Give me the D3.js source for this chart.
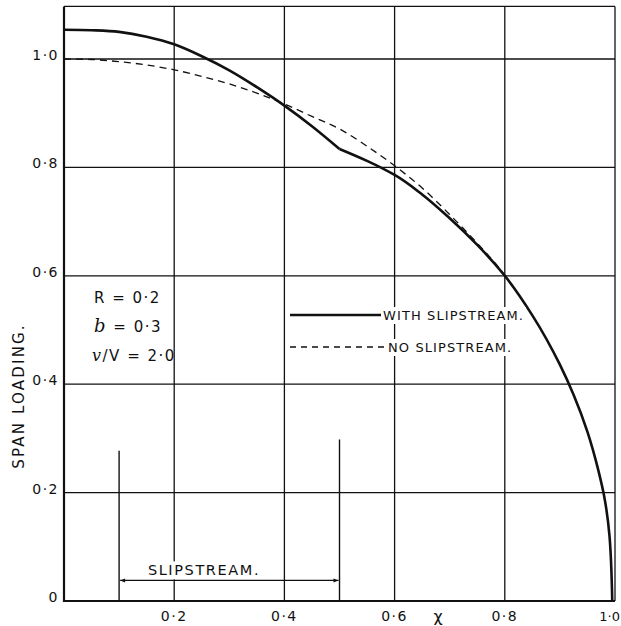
<!DOCTYPE html>
<html>
<head>
<meta charset="utf-8">
<script src="https://cdn.jsdelivr.net/npm/d3@7"></script>
<style>
  html, body { margin: 0; padding: 0; background: #fff; }
  svg { display: block; }
  text { font-family: "DejaVu Sans", sans-serif; fill: #111; }
</style>
</head>
<body>
<svg id="chart" width="621" height="626"></svg>
<script>
// ---------- data ----------
const xTicks = [0.2, 0.4, 0.6, 0.8, 1.0];
const xTickLabels = ["0·2", "0·4", "0·6", "0·8", "1·0"];
const yTicks = [0, 0.2, 0.4, 0.6, 0.8, 1.0];
const yTickLabels = ["0", "0·2", "0·4", "0·6", "0·8", "1·0"];

// with slipstream: inboard part (to slipstream edge) and outboard part
const withInX = [0, 0.05, 0.1, 0.15, 0.2, 0.25, 0.3, 0.35, 0.4, 0.45, 0.5];
const withInY = [1.054, 1.053, 1.050, 1.041, 1.027, 1.005, 0.979, 0.948, 0.914, 0.876, 0.834];
const withOutX = [0.5, 0.55, 0.6, 0.65, 0.7, 0.75, 0.8, 0.85, 0.9, 0.925, 0.95, 0.97, 0.98, 0.99, 0.995];
const withOutY = [0.834, 0.812, 0.786, 0.750, 0.706, 0.657, 0.600, 0.527, 0.436, 0.380, 0.312, 0.240, 0.195, 0.120, 0.0];

// no slipstream
const noX = [0, 0.05, 0.1, 0.15, 0.2, 0.25, 0.3, 0.35, 0.4, 0.45, 0.5, 0.55, 0.6, 0.65, 0.7, 0.75, 0.8, 0.82];
const noY = [1.0, 0.999, 0.995, 0.989, 0.980, 0.968, 0.954, 0.937, 0.917, 0.894, 0.871, 0.839, 0.803, 0.762, 0.713, 0.660, 0.601, 0.572];

// slipstream extent
const slipEdges = [0.1, 0.5];
const slipMarkTops = [0.277, 0.298];
const slipArrowY = 0.038;

// ---------- scales ----------
const svg = d3.select("#chart");
const x = d3.scaleLinear().domain([0, 1]).range([64, 615]);
const y = d3.scaleLinear().domain([0, 1.097]).range([601, 6.4]);
const frameTop = 1.097;

// ---------- grid ----------
const g = svg.append("g");
g.selectAll("line.hg").data(yTicks.slice(1).concat([frameTop])).join("line")
  .attr("x1", x(0)).attr("x2", x(1))
  .attr("y1", d => y(d)).attr("y2", d => y(d))
  .attr("stroke", "#111").attr("stroke-width", 1.3);
g.selectAll("line.vg").data(xTicks).join("line")
  .attr("x1", d => x(d)).attr("x2", d => x(d))
  .attr("y1", y(0)).attr("y2", y(frameTop))
  .attr("stroke", "#111").attr("stroke-width", 1.3);
g.append("line").attr("x1", x(0)).attr("x2", x(0)).attr("y1", y(0) + 1).attr("y2", y(frameTop))
  .attr("stroke", "#111").attr("stroke-width", 2.2);
g.append("line").attr("x1", x(0) - 1).attr("x2", x(1)).attr("y1", y(0)).attr("y2", y(0))
  .attr("stroke", "#111").attr("stroke-width", 2.2);

// ---------- tick labels ----------
svg.append("g").selectAll("text").data(xTicks).join("text")
  .attr("x", d => d === 1 ? 620 : x(d)).attr("y", 621)
  .attr("text-anchor", d => d === 1 ? "end" : "middle")
  .attr("font-size", d => d === 1 ? 13 : 14)
  .attr("letter-spacing", d => d === 1 ? 0 : 1.5)
  .text((d, i) => xTickLabels[i]);
svg.append("g").selectAll("text").data(yTicks).join("text")
  .attr("x", 59).attr("y", d => y(d) + 1)
  .attr("text-anchor", "end")
  .attr("font-size", 14).attr("letter-spacing", 1.5)
  .text((d, i) => yTickLabels[i]);

svg.append("text").attr("x", 438).attr("y", 622).attr("text-anchor", "middle")
  .attr("font-size", 16).attr("font-family", "DejaVu Serif, serif").text("χ");

svg.append("text")
  .attr("transform", `translate(24,${396}) rotate(-90)`)
  .attr("text-anchor", "middle")
  .attr("font-size", 15).attr("letter-spacing", 2.2)
  .text("SPAN  LOADING.");

// ---------- slipstream markers ----------
const slip = svg.append("g");
slip.selectAll("line.mk").data(slipEdges).join("line")
  .attr("x1", d => x(d)).attr("x2", d => x(d))
  .attr("y1", y(0)).attr("y2", (d, i) => y(slipMarkTops[i]))
  .attr("stroke", "#111").attr("stroke-width", 1.4);

const slipLabel = slip.append("text")
  .attr("x", 204)
  .attr("y", y(slipArrowY) - 5)
  .attr("text-anchor", "middle")
  .attr("font-size", 14.5).attr("letter-spacing", 1.6)
  .text("SLIPSTREAM.");
const sb = slipLabel.node().getBBox();
slip.insert("rect", "text")
  .attr("x", sb.x - 2).attr("y", sb.y - 1)
  .attr("width", sb.width + 4).attr("height", y(slipArrowY) - sb.y)
  .attr("fill", "#fff");

const defs = svg.append("defs");
defs.append("marker").attr("id", "ah").attr("viewBox", "0 0 10 10")
  .attr("refX", 10).attr("refY", 5).attr("markerWidth", 7).attr("markerHeight", 5)
  .attr("orient", "auto-start-reverse").attr("markerUnits", "userSpaceOnUse")
  .append("path").attr("d", "M0,1 L10,5 L0,9 Z").attr("fill", "#111");
slip.append("line")
  .attr("x1", x(slipEdges[0]) + 1).attr("x2", x(slipEdges[1]) - 1)
  .attr("y1", y(slipArrowY)).attr("y2", y(slipArrowY))
  .attr("stroke", "#111").attr("stroke-width", 1.1)
  .attr("marker-start", "url(#ah)").attr("marker-end", "url(#ah)");

// ---------- curves ----------
const line = d3.line().x(d => x(d[0])).y(d => y(d[1])).curve(d3.curveMonotoneX);
const lineTip = d3.line().x(d => x(d[0])).y(d => y(d[1])).curve(d3.curveMonotoneY);

svg.append("path").datum(noX.map((v, i) => [v, noY[i]]))
  .attr("d", line).attr("fill", "none").attr("stroke", "#111")
  .attr("stroke-width", 1.3).attr("stroke-dasharray", "7,5");

svg.append("path").datum(withInX.map((v, i) => [v, withInY[i]]))
  .attr("d", line).attr("fill", "none").attr("stroke", "#111")
  .attr("stroke-width", 2.6).attr("stroke-linejoin", "round");
svg.append("path").datum(withOutX.map((v, i) => [v, withOutY[i]]))
  .attr("d", lineTip).attr("fill", "none").attr("stroke", "#111")
  .attr("stroke-width", 2.6).attr("stroke-linejoin", "round");

// ---------- legend ----------
const leg = svg.append("g");
const legItems = [
  { label: "WITH SLIPSTREAM.", dash: null, w: 2.4, yv: 315, x2: 381 },
  { label: "NO SLIPSTREAM.", dash: "6,5", w: 1.3, yv: 347, x2: 386 }
];
legItems.forEach(it => {
  const t = leg.append("text").attr("x", it.x2 + 2).attr("y", it.yv + 5)
    .attr("font-size", 13).attr("letter-spacing", 1.1).text(it.label);
  const b = t.node().getBBox();
  leg.insert("rect", "text").attr("x", b.x - 2).attr("y", b.y - 1)
    .attr("width", b.width + 4).attr("height", b.height + 2).attr("fill", "#fff");
  leg.append("line").attr("x1", 290).attr("x2", it.x2).attr("y1", it.yv).attr("y2", it.yv)
    .attr("stroke", "#111").attr("stroke-width", it.w)
    .attr("stroke-dasharray", it.dash);
});

// ---------- parameters ----------
const par = svg.append("g").attr("font-size", 15).attr("letter-spacing", 1.5);
par.append("text").attr("x", 94).attr("y", 303).text("R = 0·2");
const p2 = par.append("text").attr("x", 94).attr("y", 332);
p2.append("tspan").attr("font-family", "DejaVu Serif, serif").attr("font-style", "italic").attr("font-size", 18).text("b");
p2.append("tspan").text(" = 0·3");
const p3 = par.append("text").attr("x", 92).attr("y", 361);
p3.append("tspan").attr("font-family", "DejaVu Serif, serif").attr("font-style", "italic").attr("font-size", 16).text("v");
p3.append("tspan").text("/V = 2·0");
</script>
</body>
</html>
